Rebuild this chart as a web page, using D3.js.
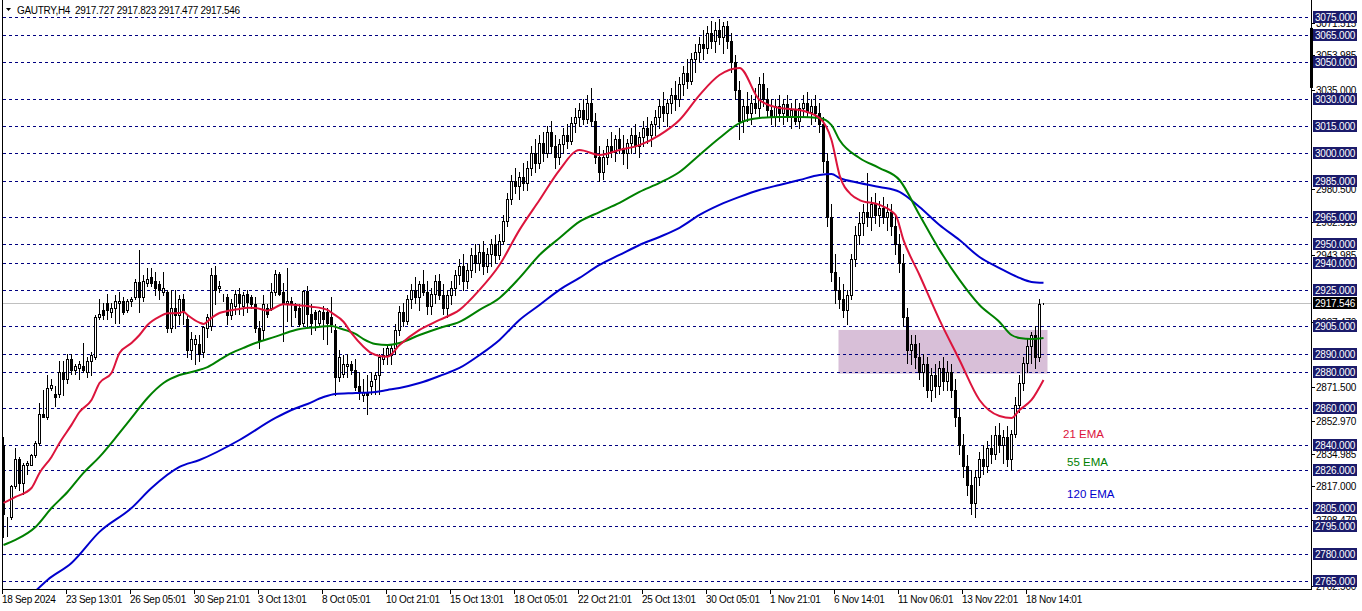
<!DOCTYPE html>
<html><head><meta charset="utf-8">
<script src="https://cdn.jsdelivr.net/npm/d3@7"></script>
<style>
html,body{margin:0;padding:0;background:#fff;overflow:hidden}
svg{display:block}
text{font-family:"Liberation Sans",Arial,sans-serif;white-space:pre}
</style></head><body>
<svg id="c" width="1362" height="611"></svg>
<script>
// ---------------- DATA ----------------
const symbolTitle = "GAUTRY,H4";
const titleValues = ["2917.727","2917.823","2917.477","2917.546"];

// [open, high, low, close] per H4 bar
const candles = [
[2840,2844,2789,2802],[2795,2800,2790,2795],[2800,2818,2799,2817],[2817,2838,2816,2832],[2832,2833,2815,2819],
[2819,2830,2813,2829],[2829,2831,2824,2830],[2829,2835,2829,2834],[2834,2842,2833,2841],[2841,2863,2840,2857],
[2857,2870,2855,2855],[2855,2878,2854,2871],[2871,2876,2870,2873],[2868,2872,2861,2866],[2868,2886,2866,2880],
[2880,2886,2867,2876],[2876,2890,2874,2887],[2887,2890,2879,2881],[2881,2884,2879,2883],[2882,2886,2876,2884],
[2883,2896,2880,2881],[2880,2888,2877,2886],[2886,2891,2878,2889],[2888,2911,2887,2910],[2910,2920,2909,2912],
[2914,2918,2909,2911],[2918,2923,2909,2914],[2913,2918,2910,2915],[2915,2922,2907,2919],[2918,2924,2907,2919],
[2919,2921,2912,2913],[2914,2920,2913,2919],[2919,2921,2916,2920],[2921,2931,2920,2929.5],[2929.5,2947,2913,2921],
[2921,2933,2919,2930],[2929,2937,2927,2931],[2932,2937,2927,2929],[2930,2935,2922,2926],[2928,2930,2920,2925],
[2924,2935,2922,2926],[2924,2925,2902,2904],[2904,2925,2902,2915],[2915,2925,2904,2911],[2911,2922,2906,2920],
[2920,2923,2906,2913],[2909,2911,2888,2892],[2892,2902,2887,2898],[2895,2900,2884,2898],[2895,2900,2886,2890],
[2891,2905,2888,2904.5],[2904,2912,2899,2910],[2905,2937,2903,2933],[2933,2938,2917,2925],[2926,2930,2924,2927],
[2921,2923,2919,2921],[2921,2923,2906,2911],[2911,2920,2909,2918],[2916,2925,2912,2923],[2923,2926,2912,2918],
[2916,2924,2911,2922],[2923,2925,2913,2918.5],[2921,2922,2915,2917],[2917,2921,2902,2904],[2904,2908,2893,2897],
[2903,2922,2898,2917],[2915,2917,2910,2912],[2915,2929,2914,2924],[2924,2936,2922,2934],[2934,2935,2922,2923],
[2924,2929,2897,2918],[2918,2937,2908,2919],[2919,2921,2905,2917],[2916,2918,2910,2914],[2915,2917,2905,2906],
[2907,2925,2905,2924.5],[2924.5,2927,2905,2912],[2912,2917,2901,2907],[2913,2914,2903,2909],[2907,2914,2905,2913.5],
[2913,2916,2898,2909],[2913,2915,2895,2907],[2910,2921,2902,2906],[2903,2906,2867,2877],[2877,2892,2875,2888],
[2879,2889,2877,2884],[2883,2890,2877,2884.5],[2884,2886,2879,2881],[2881,2887,2870,2871.5],[2872,2880,2865,2869],
[2867,2876,2864,2869],[2869,2878,2857,2867],[2872,2880,2868,2875],[2876,2880,2868,2878],[2878,2890,2868,2888],
[2887,2893,2884,2889],[2889,2895,2884,2893],[2889,2895,2884,2893],[2893,2906,2890,2903],[2903,2916,2900,2913],
[2913,2918,2905,2908],[2908,2922,2906,2920],[2920,2928,2915,2925],[2925,2932,2918,2921],[2921,2930,2914,2928],
[2928,2936,2922,2924],[2924,2930,2912,2916],[2916,2926,2912,2923],[2923,2933,2918,2930],[2930,2934,2920,2922],
[2922,2928,2912,2915],[2915,2925,2910,2922],[2922,2930,2917,2926],[2926,2936,2922,2933],[2933,2942,2928,2938],
[2938,2945,2925,2930],[2930,2940,2926,2936],[2936,2948,2932,2944],[2944,2950,2935,2940],[2940,2950,2936,2946],
[2946,2952,2934,2938],[2938,2948,2935,2945],[2945,2953,2938,2950],[2950,2955,2940,2944],[2944,2956,2942,2952],
[2952,2966,2950,2963],[2963,2978,2960,2975],[2975,2988,2972,2985],[2985,2992,2978,2982],[2982,2990,2975,2987],
[2987,2995,2980,2984],[2984,2996,2980,2992],[2992,3004,2988,3000],[3000,3008,2990,2995],[2995,3010,2992,3006],
[3006,3012,2996,3000],[3000,3015,2998,3012],[3012,3018,3000,3004],[3004,3010,2992,2998],[2998,3008,2994,3005],
[3005,3014,3000,3010],[3010,3016,3003,3007],[3007,3020,3005,3017],[3017,3025,3012,3020],[3020,3028,3015,3024],
[3024,3030,3016,3019],[3019,3032,3017,3028],[3028,3036,3015,3018],[3018,3022,2995,2998],[2998,3004,2985,2990],
[2990,3002,2986,2998],[2998,3008,2994,3004],[3004,3012,2998,3001],[3001,3010,2996,3008],[3008,3014,3000,3003],
[3003,3010,2994,3000],[3000,3008,2992,3006],[3006,3014,3000,3010],[3010,3016,3000,3004],[3004,3012,2998,3009],
[3009,3018,3004,3014],[3014,3020,3006,3010],[3010,3018,3004,3016],[3016,3024,3010,3020],[3020,3030,3014,3026],
[3026,3034,3018,3022],[3022,3030,3015,3028],[3028,3036,3022,3032],[3032,3040,3024,3030],[3030,3042,3026,3038],
[3038,3048,3032,3044],[3044,3052,3036,3040],[3040,3055,3038,3052],[3052,3060,3045,3056],[3056,3064,3050,3060],
[3060,3068,3052,3058],[3058,3070,3055,3066],[3066,3073,3058,3062],[3062,3072,3056,3068],[3068,3074,3060,3064],
[3064,3072,3055,3070],[3070,3073,3058,3062],[3062,3066,3045,3050],[3050,3054,3030,3035],[3035,3040,3008,3018],
[3018,3030,3012,3026],[3026,3034,3018,3022],[3022,3032,3016,3028],[3028,3036,3022,3025],[3025,3042,3020,3038],
[3038,3044,3026,3030],[3030,3036,3020,3024],[3024,3030,3016,3020],[3020,3030,3015,3026],[3026,3032,3018,3022],
[3022,3030,3016,3027],[3027,3032,3018,3020],[3020,3028,3014,3024],[3024,3030,3016,3018],[3018,3028,3014,3025],
[3025,3032,3020,3028],[3028,3034,3020,3023],[3023,3030,3016,3026],[3026,3032,3018,3022],[3022,3028,3012,3016],
[3016,3020,2990,2996],[2996,3000,2960,2965],[2965,2972,2930,2935],[2935,2945,2918,2925],[2925,2932,2915,2920],
[2920,2928,2910,2914],[2914,2925,2906,2922],[2922,2945,2920,2942],[2942,2960,2938,2955],[2955,2968,2950,2962],
[2962,2972,2955,2968],[2968,2989,2960,2965],[2965,2976,2958,2972],[2972,2978,2962,2966],[2966,2974,2960,2970],
[2970,2976,2962,2965],[2965,2972,2958,2968],[2968,2972,2955,2960],[2960,2966,2945,2950],[2950,2956,2935,2940],
[2940,2945,2905,2910],[2910,2915,2885,2892],[2892,2900,2884,2895],[2895,2900,2882,2888],[2888,2896,2876,2880],
[2880,2890,2872,2884],[2884,2888,2866,2870],[2870,2882,2864,2878],[2878,2884,2866,2872],[2872,2886,2868,2882],
[2882,2888,2870,2875],[2875,2886,2870,2880],[2880,2884,2866,2870],[2870,2876,2850,2855],[2855,2860,2835,2840],
[2840,2846,2822,2828],[2828,2834,2812,2818],[2818,2826,2802,2808],[2808,2826,2800,2822],[2822,2836,2818,2832],
[2832,2840,2824,2828],[2828,2842,2825,2838],[2838,2845,2830,2835],[2835,2850,2832,2845],[2845,2852,2836,2840],
[2840,2848,2830,2844],[2844,2850,2828,2832],[2832,2848,2826,2846],[2846,2866,2844,2862],[2862,2878,2858,2874],
[2874,2888,2870,2885],[2885,2898,2880,2894],[2894,2902,2885,2900],[2900,2905,2882,2888],[2888,2920,2886,2917],
[2917.727,2917.823,2917.477,2917.546]
];

// EMA samples: [bar index, price]
const ema21 = [[0,2807.9],[3,2811.2],[7,2816.1],[9,2824.4],[12,2833.2],[14,2840.9],[17,2850.8],[19,2857.9],[22,2864.5],
[24,2873.8],[27,2879.3],[29,2890.3],[32,2895.8],[34,2900.2],[36,2905.7],[39,2910.3],[41,2912.1],[44,2912.3],[45,2913.0],
[46,2911.2],[49,2907.0],[50,2906.3],[52,2909.6],[54,2912.3],[56,2913.4],[59,2914.5],[61,2915.2],[63,2915.1],[66,2913.6],
[70,2917.1],[73,2916.7],[77,2915.8],[81,2914.0],[82,2912.5],[85,2907.5],[87,2901.2],[90,2893.8],[92,2890.2],[94,2888.7],
[96,2888.3],[99,2894.7],[104,2903.0],[109,2908.5],[114,2914.0],[119,2925.0],[124,2938.7],[129,2958.0],[134,2974.4],
[139,2990.9],[144,3001.9],[149,2999.2],[154,3001.9],[159,3004.6],[164,3010.1],[169,3018.4],[174,3032.1],[179,3043.1],
[184,3047.0],[189,3029.4],[194,3025.0],[199,3023.9],[204,3019.5],[207,3007.4],[209,2988.2],[212,2977.2],[214,2974.4],
[219,2971.7],[223,2966.2],[225,2952.4],[229,2933.2],[234,2908.5],[239,2886.5],[244,2864.5],[249,2855.7],[252,2854.6],
[254,2859.0],[257,2864.5],[260,2875.5]];
const ema55 = [[0,2784.8],[3,2787.6],[8,2794.7],[12,2805.1],[16,2813.9],[20,2824.4],[24,2833.2],[29,2846.4],[32,2854.6],
[36,2865.6],[40,2873.8],[44,2878.2],[48,2880.4],[51,2882.6],[54,2886.5],[56,2889.2],[60,2893.1],[63,2895.8],[68,2899.3],
[73,2903.0],[78,2904.5],[82,2905.2],[84,2903.9],[88,2900.8],[90,2898.0],[93,2895.3],[96,2894.7],[99,2895.8],[104,2900.2],
[109,2904.1],[114,2907.4],[119,2914.0],[124,2920.6],[129,2931.6],[134,2944.2],[139,2953.5],[144,2962.5],[149,2967.8],
[154,2972.8],[159,2978.9],[164,2983.8],[169,2989.8],[174,2999.2],[179,3008.5],[184,3016.7],[189,3019.5],[194,3020.0],
[199,3020.0],[204,3019.5],[207,3015.6],[209,3007.4],[214,2997.5],[219,2992.0],[224,2985.4],[229,2966.2],[234,2947.0],
[239,2930.5],[244,2916.7],[249,2907.4],[252,2900.2],[254,2898.6],[257,2898.0],[260,2898.6]];
const ema120 = [[8,2759.5],[11,2765.6],[17,2774.9],[24,2792.0],[32,2805.1],[37,2816.1],[44,2827.7],[49,2831.5],[59,2842.5],
[68,2854.6],[72,2859.0],[76,2862.3],[80,2866.1],[83,2867.8],[88,2868.3],[93,2868.9],[96,2870.0],[99,2871.1],[104,2873.8],
[109,2877.7],[114,2882.1],[119,2889.2],[124,2897.5],[129,2908.5],[134,2916.7],[139,2925.0],[144,2931.6],[149,2938.7],
[154,2944.2],[159,2949.7],[164,2954.1],[169,2959.1],[174,2966.2],[179,2971.7],[184,2976.1],[189,2979.9],[194,2982.7],
[199,2985.4],[204,2988.2],[207,2988.7],[209,2986.5],[214,2983.8],[219,2981.6],[224,2978.9],[229,2970.6],[234,2960.7],
[239,2952.4],[244,2943.1],[249,2937.0],[254,2931.6],[257,2929.4],[260,2928.9]];

const levelLines = [3075,3065,3050,3030,3015,3000,2985,2965,2950,2940,2925,2905,2890,2880,2860,2840,2826,2805,2795,2780,2765];
const axisTicks = [3071.515,3053.985,3035.000,2980.500,2962.515,2943.985,2907.470,2871.500,2852.970,2834.985,2817.000,2798.470,2762.500];
const currentPrice = 2917.546;
const shiftMarker = [3069, 3036];
const timeTickBars = [0,16,32,48,64,80,96,112,128,144,160,176,192,208,224,240,256];
const timeLabels = ["18 Sep 2024","23 Sep 13:01","26 Sep 05:01","30 Sep 21:01","3 Oct 13:01","8 Oct 05:01","10 Oct 21:01",
"15 Oct 13:01","18 Oct 05:01","22 Oct 21:01","25 Oct 13:01","30 Oct 05:01","1 Nov 21:01","6 Nov 14:01","11 Nov 06:01",
"13 Nov 22:01","18 Nov 14:01"];
const zoneBars = [208.75, 261];
const zonePrices = [2903, 2879];
const emaLabelText = ["21 EMA","55 EMA","120 EMA"];
const emaLabelBars = [264.9, 265.9, 265.9];
const emaLabelPrices = [2843.6, 2828.2, 2810.6];

// ---------------- DRAWING ----------------
const plotL = 3, plotR = 1311, plotB = 589;
const colors = { ema21:"#dc143c", ema55:"#008000", ema120:"#0000cd", grid:"#000080", box:"#1b1b6b" };

const svg = d3.select("#c");
const x = d3.scaleLinear().domain([0, 260]).range([3.5, 1043.5]);
const y = d3.scaleLinear().domain([2765, 3075]).range([581, 17]);
const cy = v => Math.round(y(v)) + 0.5;

svg.append("defs").append("clipPath").attr("id","plot")
  .append("rect").attr("x",plotL).attr("y",0).attr("width",plotR-plotL).attr("height",plotB);

const plot = svg.append("g").attr("clip-path","url(#plot)");

plot.append("rect")
  .attr("x", x(zoneBars[0])).attr("width", x(zoneBars[1]) - x(zoneBars[0]))
  .attr("y", y(zonePrices[0])).attr("height", y(zonePrices[1]) - y(zonePrices[0]))
  .attr("fill", "#d8bfd8");

plot.append("g").selectAll("line").data(levelLines).join("line")
  .attr("x1", plotL).attr("x2", plotR).attr("y1", d=>cy(d)).attr("y2", d=>cy(d))
  .attr("stroke", colors.grid).attr("stroke-width",1).attr("stroke-dasharray","3,3");

plot.append("line").attr("x1",plotL).attr("x2",plotR).attr("y1",cy(currentPrice)).attr("y2",cy(currentPrice))
  .attr("stroke","#c0c0c0").attr("stroke-width",1);

const cg = plot.append("g").selectAll("g").data(candles).join("g");
cg.append("line")
  .attr("x1",(d,i)=>x(i)).attr("x2",(d,i)=>x(i))
  .attr("y1",d=>Math.round(y(d[1]))).attr("y2",d=>Math.round(y(d[2]))+1)
  .attr("stroke","#000").attr("stroke-width",1);
cg.append("rect")
  .attr("x",(d,i)=>x(i)-1).attr("width",2)
  .attr("y",d=>cy(Math.max(d[0],d[3])))
  .attr("height",d=>cy(Math.min(d[0],d[3])) - cy(Math.max(d[0],d[3])))
  .attr("fill",d=>d[3]>=d[0] ? "#fff" : "#000")
  .attr("stroke","#000").attr("stroke-width",1);

const line = d3.line().x(d=>x(d[0])).y(d=>y(d[1])).curve(d3.curveMonotoneX);
[[ema120,colors.ema120],[ema55,colors.ema55],[ema21,colors.ema21]].forEach(([data,col])=>{
  plot.append("path").datum(data).attr("d",line).attr("fill","none").attr("stroke",col).attr("stroke-width",2);
});

const labelColors = [colors.ema21, colors.ema55, colors.ema120];
svg.append("g").selectAll("text").data(emaLabelText).join("text")
  .attr("x",(d,i)=>x(emaLabelBars[i])).attr("y",(d,i)=>y(emaLabelPrices[i]))
  .attr("fill",(d,i)=>labelColors[i]).attr("font-size","11.5px").text(d=>d);

svg.append("line").attr("x1",plotL-0.5).attr("x2",plotL-0.5).attr("y1",0).attr("y2",plotB+1).attr("stroke","#000");
svg.append("line").attr("x1",plotR+0.5).attr("x2",plotR+0.5).attr("y1",0).attr("y2",plotB+1).attr("stroke","#000");
svg.append("line").attr("x1",plotL-1).attr("x2",plotR+1).attr("y1",plotB+0.5).attr("y2",plotB+0.5).attr("stroke","#000");

svg.append("rect").attr("x",plotR-1).attr("width",3)
  .attr("y",y(shiftMarker[0])).attr("height",y(shiftMarker[1])-y(shiftMarker[0])).attr("fill","#000");

const ra = svg.append("g");
ra.selectAll("line").data(axisTicks).join("line")
  .attr("x1",plotR+1).attr("x2",plotR+4).attr("y1",d=>cy(d)).attr("y2",d=>cy(d)).attr("stroke","#000");
ra.selectAll("text").data(axisTicks).join("text")
  .attr("x",plotR+5).attr("y",d=>y(d)+4).attr("font-size","10px").attr("letter-spacing","-0.2px").attr("fill","#000")
  .text(d=>d.toFixed(3));

const hl = svg.append("g").selectAll("g").data(levelLines).join("g");
hl.append("rect").attr("x",plotR+2).attr("width",44).attr("y",d=>Math.round(y(d))-6).attr("height",12).attr("fill",colors.box);
hl.append("text").attr("x",plotR+4).attr("y",d=>Math.round(y(d))+4).attr("font-size","10px").attr("letter-spacing","-0.2px").attr("fill","#fff")
  .text(d=>d.toFixed(3));

svg.append("rect").attr("x",plotR+2).attr("width",44).attr("y",Math.round(y(currentPrice))-6).attr("height",12).attr("fill","#000");
svg.append("text").attr("x",plotR+4).attr("y",Math.round(y(currentPrice))+4).attr("font-size","10px").attr("letter-spacing","-0.2px").attr("fill","#fff")
  .text(currentPrice.toFixed(3));

const ta = svg.append("g");
ta.selectAll("line").data(timeTickBars).join("line")
  .attr("x1",d=>Math.floor(x(d))-0.5).attr("x2",d=>Math.floor(x(d))-0.5).attr("y1",plotB).attr("y2",plotB+5).attr("stroke","#000");
ta.selectAll("text").data(timeLabels).join("text")
  .attr("x",(d,i)=>Math.floor(x(timeTickBars[i]))-1).attr("y",603).attr("font-size","10px").attr("letter-spacing","-0.3px").attr("fill","#000")
  .text(d=>d);

svg.append("path").attr("d","M6,8 L11,8 L8.5,11 Z").attr("fill","#000");
svg.append("text").attr("x",17).attr("y",14).attr("font-size","10px").attr("letter-spacing","-0.3px").attr("fill","#000")
  .text(symbolTitle + "  " + titleValues.join(" "));
</script>
</body></html>
